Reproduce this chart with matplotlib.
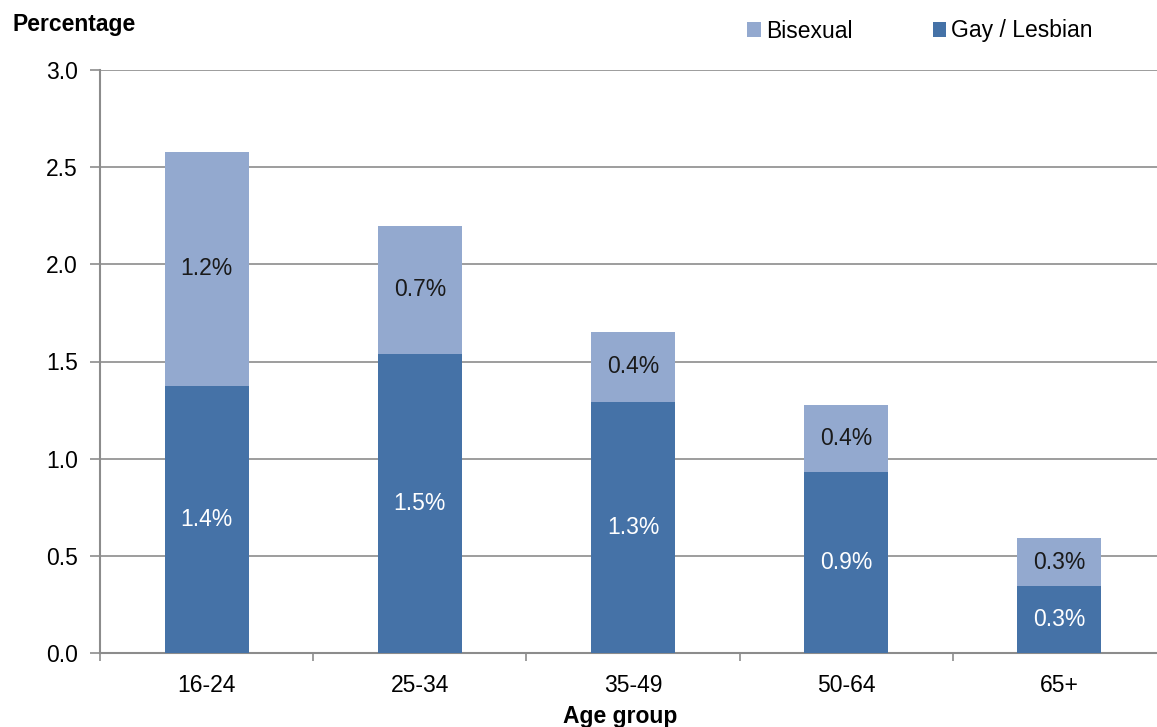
import numpy as np
import matplotlib.pyplot as plt

plt.rcParams['font.family'] = ['Liberation Sans', 'DejaVu Sans']

age_groups = ['16-24', '25-34', '35-49', '50-64', '65+']
gay_lesbian = [1.374, 1.539, 1.292, 0.931, 0.345]
bisexual = [1.206, 0.658, 0.360, 0.345, 0.245]
gay_labels = ['1.4%', '1.5%', '1.3%', '0.9%', '0.3%']
bi_labels = ['1.2%', '0.7%', '0.4%', '0.4%', '0.3%']

col_gay = '#4572a7'
col_bi = '#93a9cf'
grid_col = '#8c8c8c'
fs = 16.5

fig = plt.figure(figsize=(11.57, 7.27), dpi=100)
# axes runs a bit past the right edge, like the original
ax = fig.add_axes([100 / 1157, 1 - 653 / 727, 1066 / 1157, 583 / 727])

x = np.arange(len(age_groups))
b1 = ax.bar(x, gay_lesbian, width=0.394, color=col_gay, zorder=3)
b2 = ax.bar(x, bisexual, width=0.394, bottom=gay_lesbian, color=col_bi, zorder=3)

for i in range(len(x)):
    ax.text(x[i], gay_lesbian[i] / 2, gay_labels[i], ha='center', va='center',
            color='white', fontsize=fs, zorder=4)
    ax.text(x[i], gay_lesbian[i] + bisexual[i] / 2, bi_labels[i], ha='center',
            va='center', color='#1a1a1a', fontsize=fs, zorder=4)

ax.set_xlim(-0.5, 4.5)
ax.set_ylim(0, 3.0)
ax.set_yticks(np.arange(0, 3.01, 0.5))
ax.set_yticklabels([f'{v:.1f}' for v in np.arange(0, 3.01, 0.5)], fontsize=fs)
ax.set_xticks(x)
ax.set_xticklabels(age_groups, fontsize=fs)
ax.set_xticks(np.arange(-0.5, 4.6, 1), minor=True)
ax.tick_params(axis='x', which='major', length=0, pad=15)
ax.tick_params(axis='x', which='minor', length=6, color=grid_col, width=1.2)
ax.tick_params(axis='y', length=7, color=grid_col, width=1.2, pad=9)

ax.yaxis.grid(True, color=grid_col, linewidth=1.2, zorder=0)
for s in ['top', 'right']:
    ax.spines[s].set_visible(False)
for s in ['left', 'bottom']:
    ax.spines[s].set_color(grid_col)
    ax.spines[s].set_linewidth(1.5)

fig.text(12 / 1157, 1 - 25 / 727, 'Percentage', fontsize=fs, fontweight='bold',
         va='center', ha='left')
fig.text(620 / 1157, 1 - 716 / 727, 'Age group', fontsize=fs, fontweight='bold',
         va='center', ha='center')

ax.legend([b2, b1], ['Bisexual', 'Gay / Lesbian'], loc='center left',
          bbox_to_anchor=(736 / 1157, 1 - 31 / 727), bbox_transform=fig.transFigure,
          ncol=2, frameon=False, fontsize=fs, handlelength=0.6, handleheight=0.6,
          handletextpad=0.2, columnspacing=3.5, borderpad=0)

fig.savefig('out.png', dpi=100)
